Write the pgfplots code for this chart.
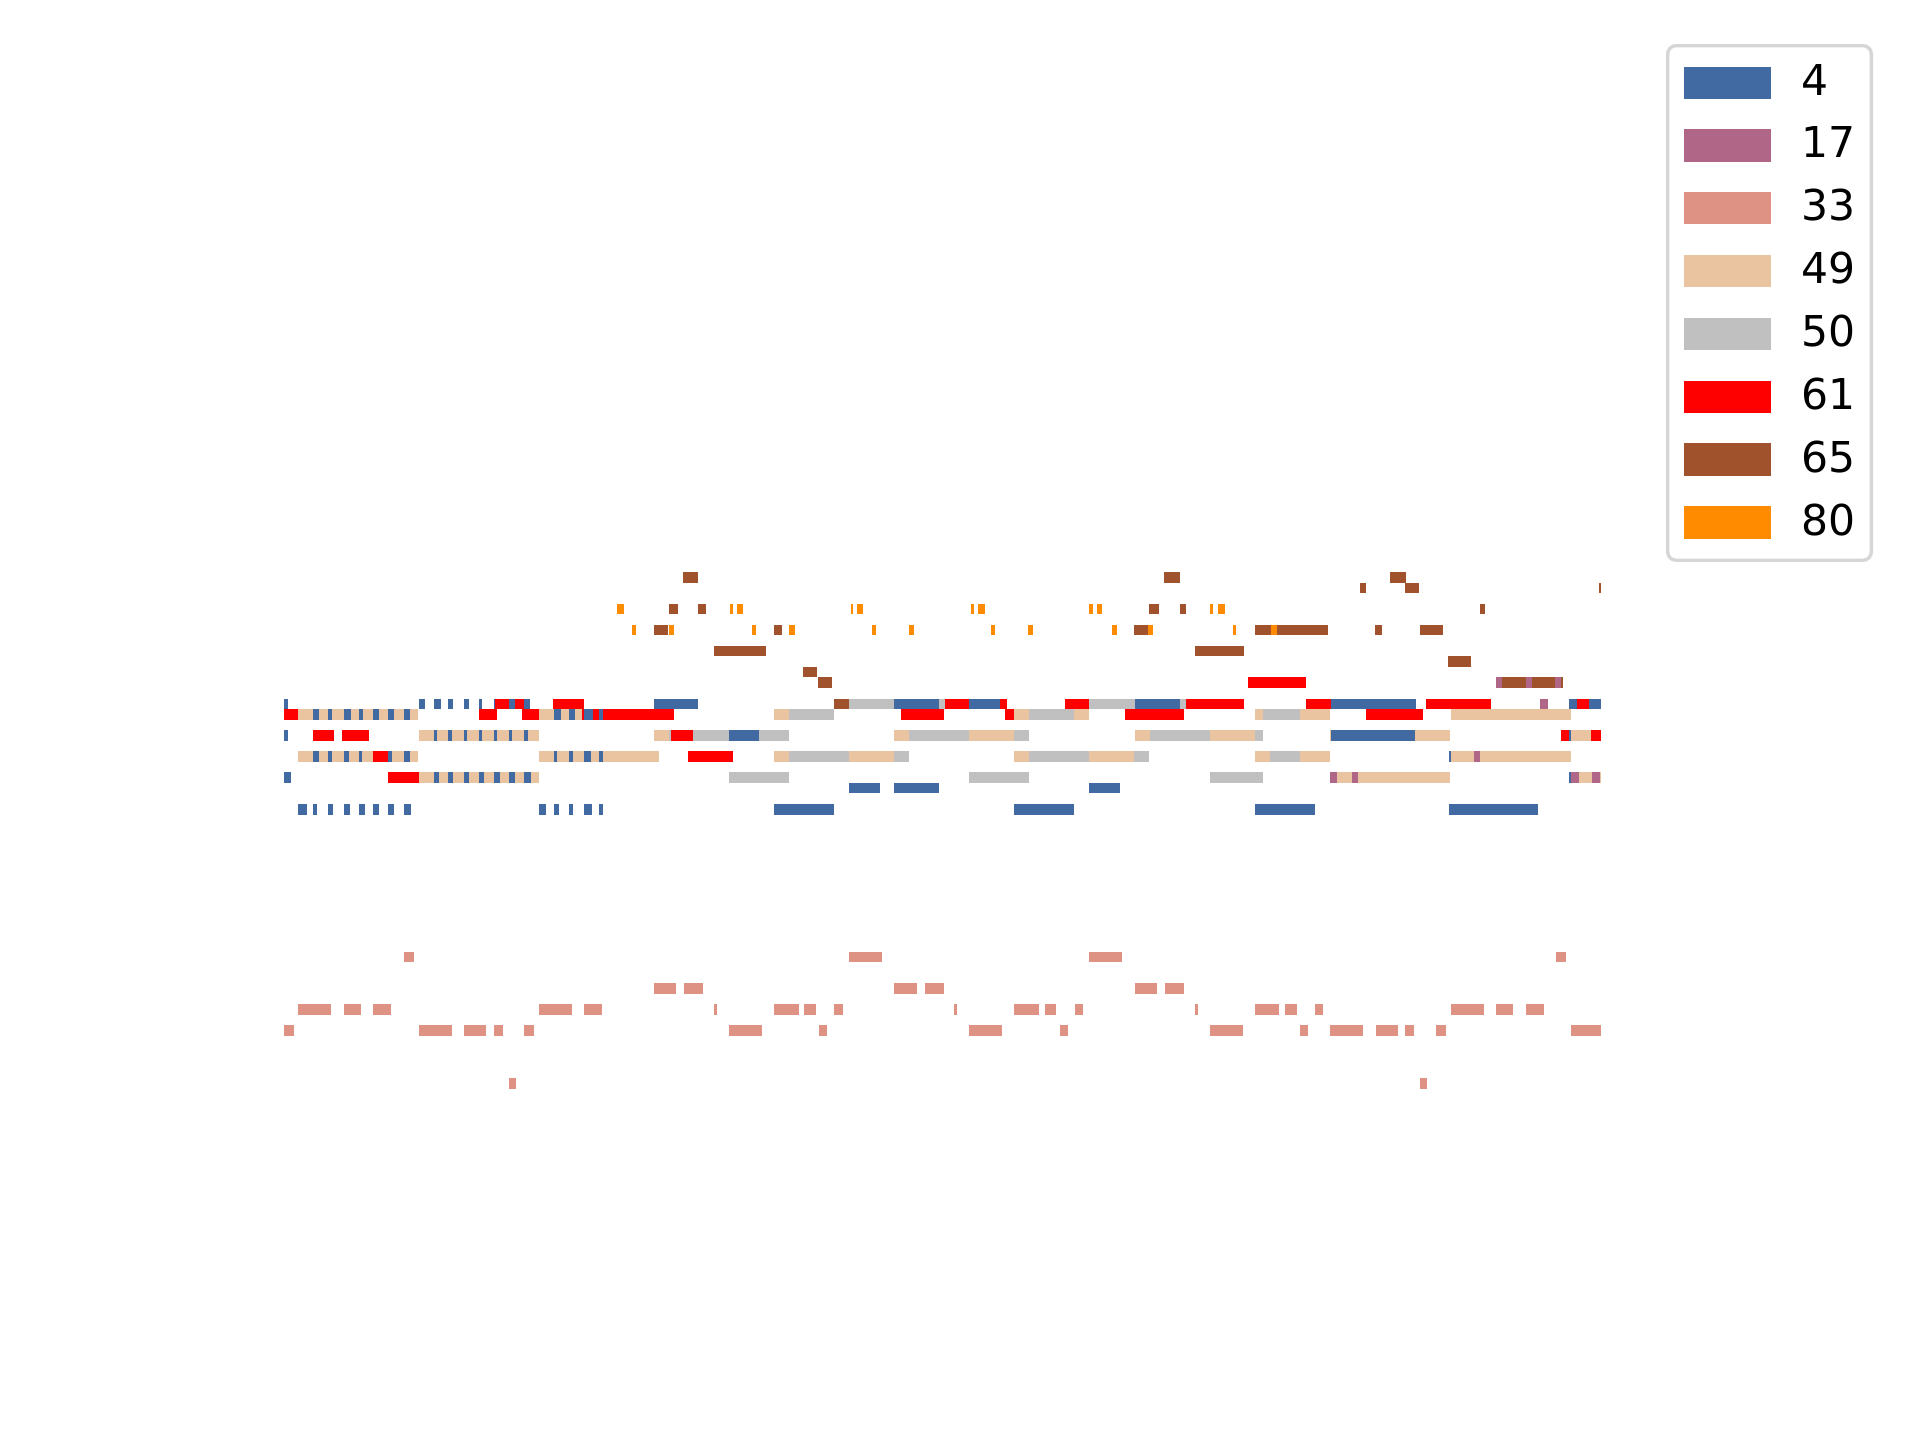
\documentclass[border=0pt]{standalone}
\usepackage{fontspec}
\setmainfont{DejaVu Sans}
\usepackage{pgfplots}
\usepackage{pgfplotstable}
\pgfplotsset{compat=1.18}

\definecolor{c4}{RGB}{66,106,162}
\definecolor{c17}{RGB}{176,102,135}
\definecolor{c33}{RGB}{222,146,131}
\definecolor{c49}{RGB}{234,195,160}
\definecolor{c50}{RGB}{192,192,192}
\definecolor{c61}{RGB}{255,0,0}
\definecolor{c65}{RGB}{160,82,45}
\definecolor{c80}{RGB}{255,140,0}
\definecolor{legframe}{RGB}{214,214,214}

% note tables: start, end (time), pitch
\pgfplotstableread{
s e p
284 288 68
419 425 68
434 441 68
448 453 68
464 469 68
479 482 68
494 495 68
509 515 68
524 530 68
654 698 68
894 939 68
969 1000 68
1135 1180 68
1331 1416 68
1569 1577 68
1589 1601 68
313 319 67
328 332 67
344 351 67
359 363 67
373 379 67
388 394 67
404 410 67
554 561 67
569 575 67
584 593 67
599 603 67
284 288 65
434 437 65
448 452 65
464 467 65
479 482 65
494 497 65
509 512 65
524 528 65
729 759 65
1331 1415 65
1569 1571 65
313 319 63
328 332 63
344 349 63
359 362 63
388 392 63
404 410 63
554 557 63
569 573 63
584 591 63
599 603 63
1449 1451 63
284 291 61
434 439 61
448 453 61
464 469 61
479 484 61
494 500 61
509 515 61
524 531 61
1569 1571 61
849 880 60
894 939 60
1089 1120 60
298 307 58
313 317 58
328 333 58
344 350 58
359 365 58
373 379 58
388 394 58
404 411 58
539 546 58
554 559 58
569 573 58
584 592 58
599 603 58
774 834 58
1014 1074 58
1255 1315 58
1449 1538 58
}\tblA

\pgfplotstableread{
s e p
1496 1502 70
1526 1532 70
1555 1561 70
1540 1548 68
1474 1480 63
1330 1337 61
1352 1358 61
1571 1579 61
1592 1600 61
}\tblB

\pgfplotstableread{
s e p
404 414 44
849 882 44
1089 1122 44
1556 1566 44
654 676 41
684 703 41
894 917 41
925 944 41
1135 1157 41
1165 1184 41
298 331 39
344 361 39
373 391 39
539 572 39
584 602 39
714 717 39
774 799 39
804 816 39
834 843 39
954 957 39
1014 1039 39
1045 1056 39
1075 1083 39
1195 1198 39
1255 1279 39
1285 1297 39
1315 1323 39
1451 1484 39
1496 1513 39
1526 1544 39
284 294 37
419 452 37
464 486 37
494 503 37
524 534 37
729 762 37
819 827 37
969 1002 37
1060 1068 37
1210 1243 37
1300 1308 37
1330 1363 37
1376 1398 37
1405 1414 37
1436 1446 37
1571 1601 37
509 516 32
1420 1427 32
}\tblC

\pgfplotstableread{
s e p
298 313 67
319 328 67
332 344 67
351 359 67
363 373 67
379 388 67
394 404 67
410 418 67
539 554 67
561 569 67
575 582 67
774 789 67
1014 1029 67
1074 1089 67
1255 1263 67
1300 1330 67
1451 1571 67
419 434 65
437 448 65
452 464 65
467 479 65
482 494 65
497 509 65
512 524 65
528 539 65
654 669 65
894 909 65
969 1014 65
1135 1150 65
1210 1255 65
1330 1331 65
1415 1450 65
1571 1591 65
298 313 63
319 328 63
332 344 63
349 359 63
362 373 63
392 404 63
410 418 63
539 554 63
557 569 63
573 584 63
591 599 63
603 659 63
774 789 63
849 894 63
1014 1029 63
1089 1134 63
1255 1270 63
1300 1330 63
1451 1474 63
1480 1571 63
419 434 61
439 448 61
453 464 61
469 479 61
484 494 61
500 509 61
515 524 61
531 539 61
1337 1352 61
1358 1450 61
1579 1592 61
1600 1601 61
}\tblD

\pgfplotstableread{
s e p
849 894 68
939 945 68
1089 1135 68
1180 1186 68
789 834 67
1029 1074 67
1263 1300 67
669 671 65
693 729 65
759 789 65
909 969 65
1014 1029 65
1150 1210 65
1255 1263 65
789 849 63
894 909 63
1029 1089 63
1134 1149 63
1270 1300 63
729 789 61
969 1029 61
1210 1263 61
}\tblE

\pgfplotstableread{
s e p
1248 1306 70
495 509 68
515 524 68
553 584 68
945 969 68
1000 1007 68
1065 1089 68
1186 1244 68
1306 1331 68
1426 1491 68
1577 1589 68
284 298 67
479 497 67
522 539 67
582 584 67
593 599 67
603 674 67
901 944 67
1005 1014 67
1125 1184 67
1366 1423 67
313 334 65
342 369 65
671 693 65
1561 1569 65
1591 1601 65
373 388 63
688 733 63
388 419 61
}\tblF

\pgfplotstableread{
s e p
683 698 80
1164 1180 80
1390 1406 80
1360 1366 79
1405 1419 79
1599 1601 79
669 678 77
698 706 77
1149 1159 77
1180 1186 77
1480 1485 77
654 668 75
774 782 75
1134 1148 75
1255 1271 75
1277 1328 75
1375 1382 75
1420 1443 75
714 766 73
1195 1244 73
1448 1471 72
803 817 71
818 832 70
1502 1526 70
1532 1555 70
1561 1563 70
834 849 68
}\tblG

\pgfplotstableread{
s e p
617 624 77
730 733 77
737 743 77
851 853 77
857 863 77
971 974 77
978 985 77
1089 1093 77
1097 1102 77
1210 1213 77
1218 1225 77
632 636 75
669 674 75
752 756 75
789 795 75
872 876 75
909 914 75
991 995 75
1028 1033 75
1112 1117 75
1148 1153 75
1233 1236 75
1271 1277 75
}\tblH

\newcommand{\rowh}{2.5308pt}
\newcommand{\notes}[2]{%
  \addplot[forget plot, draw=none, mark=none,
    error bars/.cd, x dir=plus, x explicit, error mark=none,
    error bar style={line width=\rowh, draw=#2, line cap=butt, sharp corners}]
    table[x=s, y=p, x error expr=\thisrow{e}-\thisrow{s}] {#1};}

\begin{document}
\begin{tikzpicture}
\path[use as bounding box] (0,0) rectangle (460.8pt,345.6pt);
\begin{axis}[
  at={(0,0)}, anchor=south west,
  scale only axis, width=460.8pt, height=345.6pt,
  xmin=0, xmax=1920, ymin=-1.814, ymax=134.744,
  hide axis, clip=false,
  legend image code/.code={\fill[#1, sharp corners] (0pt,-3.9pt) rectangle (20.9pt,3.9pt);},
  legend cell align=left,
  legend style={
    at={(0.867708,0.969444)}, anchor=north west,
    draw=legframe, line width=0.8pt, rounded corners=2pt,
    inner xsep=3.8pt, inner ysep=4.5pt,
    font=\fontsize{10.2}{12}\selectfont,
    row sep=6.03pt, column sep=7.4pt,
    nodes={inner sep=0pt},
  },
]
\addlegendimage{fill=c4, draw=none}\addlegendentry{4}
\addlegendimage{fill=c17, draw=none}\addlegendentry{17}
\addlegendimage{fill=c33, draw=none}\addlegendentry{33}
\addlegendimage{fill=c49, draw=none}\addlegendentry{49}
\addlegendimage{fill=c50, draw=none}\addlegendentry{50}
\addlegendimage{fill=c61, draw=none}\addlegendentry{61}
\addlegendimage{fill=c65, draw=none}\addlegendentry{65}
\addlegendimage{fill=c80, draw=none}\addlegendentry{80}

\notes{\tblA}{c4}
\notes{\tblB}{c17}
\notes{\tblC}{c33}
\notes{\tblD}{c49}
\notes{\tblE}{c50}
\notes{\tblF}{c61}
\notes{\tblG}{c65}
\notes{\tblH}{c80}
\end{axis}
\end{tikzpicture}
\end{document}
